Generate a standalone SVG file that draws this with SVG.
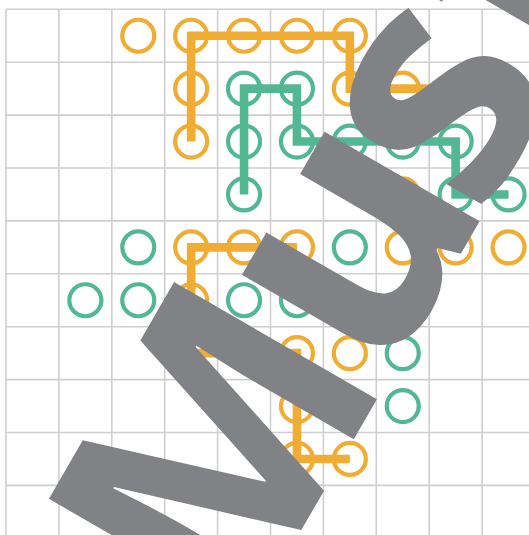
<svg xmlns="http://www.w3.org/2000/svg" width="529" height="535" viewBox="0 0 529 535">
  <style>
    .grid line { stroke: #CFCFCF; stroke-width: 1.6; }
    .o { fill: none; stroke: #F0AC33; stroke-width: 4.2; }
    .g { fill: none; stroke: #52B894; stroke-width: 4.2; }
    .po { fill: none; stroke: #F0AC33; stroke-width: 8.6; stroke-linejoin: miter; stroke-linecap: butt; }
    .pg { fill: none; stroke: #52B894; stroke-width: 8.6; stroke-linejoin: miter; stroke-linecap: butt; }
    .word { font-family: "Open Sans", "Liberation Sans", sans-serif; font-weight: 700; font-size: 328px; fill: #808285; }
  </style>
  <rect width="529" height="535" fill="#FFFFFF"/>
  <g class="grid" id="grid">
    <line x1="6" y1="9.3" x2="6" y2="535"/>
    <line x1="58.9" y1="9.3" x2="58.9" y2="535"/>
    <line x1="111.8" y1="9.3" x2="111.8" y2="535"/>
    <line x1="164.7" y1="9.3" x2="164.7" y2="535"/>
    <line x1="217.6" y1="9.3" x2="217.6" y2="535"/>
    <line x1="270.5" y1="9.3" x2="270.5" y2="535"/>
    <line x1="323.4" y1="9.3" x2="323.4" y2="535"/>
    <line x1="376.3" y1="9.3" x2="376.3" y2="535"/>
    <line x1="429.2" y1="9.3" x2="429.2" y2="535"/>
    <line x1="482.1" y1="9.3" x2="482.1" y2="535"/>
    <line x1="6" y1="9.3" x2="529" y2="9.3"/>
    <line x1="6" y1="62.2" x2="529" y2="62.2"/>
    <line x1="6" y1="115.1" x2="529" y2="115.1"/>
    <line x1="6" y1="168" x2="529" y2="168"/>
    <line x1="6" y1="220.9" x2="529" y2="220.9"/>
    <line x1="6" y1="273.8" x2="529" y2="273.8"/>
    <line x1="6" y1="326.7" x2="529" y2="326.7"/>
    <line x1="6" y1="379.6" x2="529" y2="379.6"/>
    <line x1="6" y1="432.5" x2="529" y2="432.5"/>
    <line x1="6" y1="485.4" x2="529" y2="485.4"/>
  </g>
  <g id="nodes">
    <g id="o-r0c2"><circle class="o" cx="138.25" cy="35.75" r="16"/></g>
    <g id="o-r0c3"><circle class="o" cx="191.15" cy="35.75" r="16"/></g>
    <g id="o-r0c4"><circle class="o" cx="244.05" cy="35.75" r="16"/></g>
    <g id="o-r0c5"><circle class="o" cx="296.95" cy="35.75" r="16"/></g>
    <g id="o-r0c6"><circle class="o" cx="349.85" cy="35.75" r="16"/></g>
    <g id="g-r0c7"><circle class="g" cx="402.75" cy="35.75" r="16"/></g>
    <g id="o-r1c3"><circle class="o" cx="191.15" cy="88.65" r="16"/></g>
    <g id="g-r1c4"><circle class="g" cx="244.05" cy="88.65" r="16"/></g>
    <g id="g-r1c5"><circle class="g" cx="296.95" cy="88.65" r="16"/></g>
    <g id="o-r1c6"><circle class="o" cx="349.85" cy="88.65" r="16"/></g>
    <g id="o-r1c7"><circle class="o" cx="402.75" cy="88.65" r="16"/></g>
    <g id="o-r1c9"><circle class="o" cx="508.55" cy="88.65" r="16"/></g>
    <g id="o-r2c3"><circle class="o" cx="191.15" cy="141.55" r="16"/></g>
    <g id="g-r2c4"><circle class="g" cx="244.05" cy="141.55" r="16"/></g>
    <g id="g-r2c5"><circle class="g" cx="296.95" cy="141.55" r="16"/></g>
    <g id="g-r2c6"><circle class="g" cx="349.85" cy="141.55" r="16"/></g>
    <g id="g-r2c7"><circle class="g" cx="402.75" cy="141.55" r="16"/></g>
    <g id="g-r2c8"><circle class="g" cx="455.65" cy="141.55" r="16"/></g>
    <g id="g-r3c4"><circle class="g" cx="244.05" cy="194.45" r="16"/></g>
    <g id="o-r3c7"><circle class="o" cx="402.75" cy="194.45" r="16"/></g>
    <g id="g-r3c8"><circle class="g" cx="455.65" cy="194.45" r="16"/></g>
    <g id="g-r3c9"><circle class="g" cx="508.55" cy="194.45" r="16"/></g>
    <g id="g-r4c2"><circle class="g" cx="138.25" cy="247.35" r="16"/></g>
    <g id="o-r4c3"><circle class="o" cx="191.15" cy="247.35" r="16"/></g>
    <g id="o-r4c4"><circle class="o" cx="244.05" cy="247.35" r="16"/></g>
    <g id="o-r4c5"><circle class="o" cx="296.95" cy="247.35" r="16"/></g>
    <g id="g-r4c6"><circle class="g" cx="349.85" cy="247.35" r="16"/></g>
    <g id="o-r4c7"><circle class="o" cx="402.75" cy="247.35" r="16"/></g>
    <g id="o-r4c8"><circle class="o" cx="455.65" cy="247.35" r="16"/></g>
    <g id="o-r4c9"><circle class="o" cx="508.55" cy="247.35" r="16"/></g>
    <g id="g-r5c1"><circle class="g" cx="85.35" cy="300.25" r="16"/></g>
    <g id="g-r5c2"><circle class="g" cx="138.25" cy="300.25" r="16"/></g>
    <g id="o-r5c3"><circle class="o" cx="191.15" cy="300.25" r="16"/></g>
    <g id="g-r5c4"><circle class="g" cx="244.05" cy="300.25" r="16"/></g>
    <g id="g-r5c5"><circle class="g" cx="296.95" cy="300.25" r="16"/></g>
    <g id="o-r6c5"><circle class="o" cx="296.95" cy="353.15" r="16"/></g>
    <g id="o-r6c6"><circle class="o" cx="349.85" cy="353.15" r="16"/></g>
    <g id="g-r6c7"><circle class="g" cx="402.75" cy="353.15" r="16"/></g>
    <g id="o-r7c5"><circle class="o" cx="296.95" cy="406.05" r="16"/></g>
    <g id="g-r7c7"><circle class="g" cx="402.75" cy="406.05" r="16"/></g>
    <g id="o-r8c5"><circle class="o" cx="296.95" cy="458.95" r="16"/></g>
    <g id="o-r8c6"><circle class="o" cx="349.85" cy="458.95" r="16"/></g>
  </g>
  <g id="connectors">
    <path class="po" d="M191.15,141.55 V35.75 H349.85 V88.65 H508.55"/>
    <path class="pg" d="M244.05,194.45 V88.65 H296.95 V141.55 H455.65 V194.45 H508.55"/>
    <path class="po" d="M296.95,247.35 H191.15 V353.15 H296.95 V458.95 H349.85"/>
  </g>
  <text class="word" x="-437" y="0" transform="translate(455.5,263) rotate(-60)">M<tspan dx="-14">u</tspan><tspan dx="-25">s</tspan><tspan dx="0">t</tspan></text>
</svg>
